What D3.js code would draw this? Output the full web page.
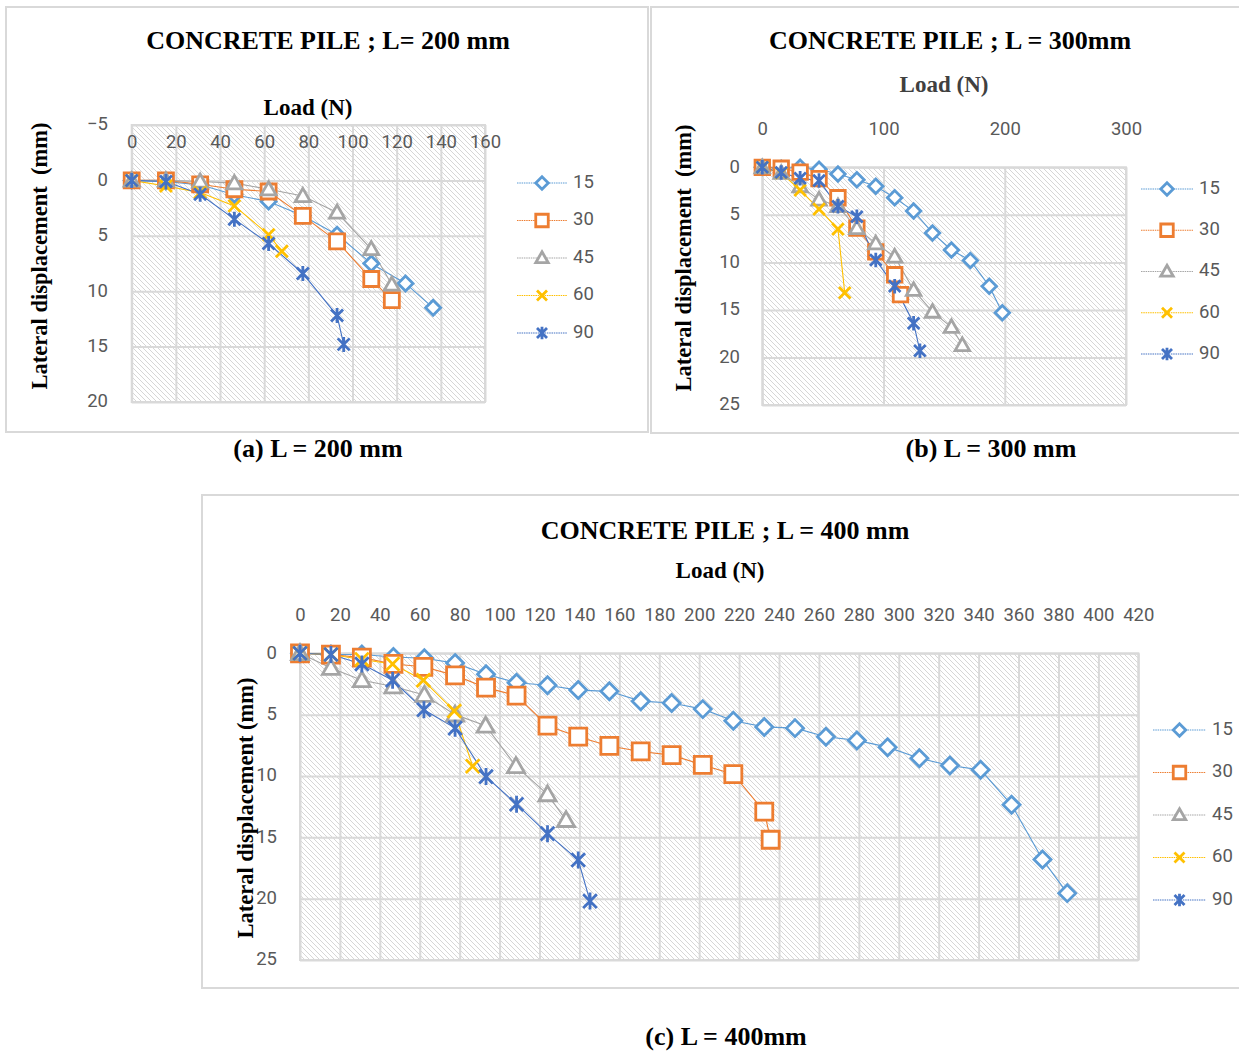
<!DOCTYPE html>
<html>
<head>
<meta charset="utf-8">
<script src="https://cdn.jsdelivr.net/npm/d3@7"></script>
<style>
  body { margin: 0; background: #fff; }
  svg { display: block; }
</style>
</head>
<body>
<svg id="svg-container" width="1239" height="1053"></svg>
<script>
// series labels (legend)
var seriesNames = ["15", "30", "45", "60", "90"];

// (a) L = 200 mm : [load N, lateral displacement mm]
var a15 = [[0,0],[15.5,0.1],[31,0.4],[46.5,1.3],[62,1.9],[77.5,3.2],[93,4.9],[108.5,7.5],[124,9.3],[136.5,11.5]];
var a30 = [[0,0],[15.5,0],[31,0.35],[46.5,0.8],[62,1],[77.5,3.2],[93,5.5],[108.5,8.9],[117.8,10.8]];
var a45 = [[0,0],[15.5,0],[31,0.1],[46.5,0.25],[62,0.8],[77.5,1.4],[93,2.9],[108.5,6.2],[117.8,9.4]];
var a60 = [[0,0],[15.5,0.5],[31,1.1],[46.5,2.3],[62,4.9],[68,6.4]];
var a90 = [[0,0],[15.5,0.1],[31,1.25],[46.5,3.5],[62,5.7],[77.5,8.4],[93,12.2],[96,14.8]];

// (b) L = 300 mm
var b15 = [[0,0],[15.6,0.1],[31.2,0],[46.8,0.2],[62.4,0.7],[78,1.3],[93.6,2],[109.2,3.2],[124.8,4.6],[140.4,6.9],[156,8.7],[171.6,9.8],[187.2,12.5],[198,15.3]];
var b30 = [[0,0],[15.6,0.1],[31.2,0.5],[46.8,1.2],[62.4,3.2],[78,6.4],[93.6,8.9],[109.2,11.3],[114,13.4]];
var b45 = [[0,0],[15.6,0.6],[31.2,2],[46.8,3.4],[62.4,4.1],[78,6.4],[93.6,8],[109.2,9.4],[124.8,12.9],[140.4,15.2],[156,16.8],[165,18.7]];
var b60 = [[0,0],[15.6,0.6],[31.2,2.4],[46.8,4.4],[62.4,6.5],[68,13.2]];
var b90 = [[0,0],[15.6,0.55],[31.2,1.15],[46.8,1.4],[62.4,4.1],[78,5.2],[93.6,9.75],[109.2,12.5],[124.8,16.4],[130,19.3]];

// (c) L = 400 mm
var c15 = [[0,0],[15.5,0.1],[31,0.1],[46.8,0.3],[62.3,0.4],[77.7,0.8],[93.2,1.7],[108.5,2.4],[124,2.6],[139.4,3],[155,3.1],[170.7,3.9],[186.2,4.05],[201.8,4.55],[217.1,5.5],[232.6,6],[248,6.1],[263.5,6.8],[279,7.1],[294.4,7.65],[310.3,8.55],[325.6,9.15],[341,9.5],[356.5,12.35],[372,16.8],[384.4,19.55]];
var c30 = [[0,0],[15.5,0.1],[31,0.35],[46.8,0.87],[61.8,1.1],[77.7,1.8],[93.2,2.8],[108.5,3.45],[124,5.9],[139.4,6.8],[155,7.55],[170.7,8],[186.2,8.3],[201.8,9.1],[217.1,9.85],[232.6,12.9],[235.8,15.2]];
var c45 = [[0,0],[15.5,1.2],[31,2.2],[46.8,2.7],[62.3,3.4],[77.7,5],[93,5.9],[108.2,9.2],[124,11.5],[133.3,13.6]];
var c60 = [[0,0],[15.5,0.1],[31,0.5],[46.4,0.87],[61.8,2.2],[77.3,4.7],[86.5,9.2]];
var c90 = [[0,0],[15.5,0.1],[31,0.87],[46.4,2.2],[62.1,4.6],[77.7,6.1],[93.2,10.05],[108.5,12.3],[124,14.7],[139.4,16.85],[145.3,20.2]];

// axis ticks
var ticksLoadA = d3.range(0, 161, 20);
var ticksLoadB = [0, 100, 200, 300];
var ticksLoadC = d3.range(0, 421, 20);
var ticksDispA = [-5, 0, 5, 10, 15, 20];
var ticksDispBC = [0, 5, 10, 15, 20, 25];

var COLORS = ["#5B9BD5", "#ED7D31", "#A5A5A5", "#FFC000", "#4472C4"];
var MARKERS = ["diamond", "square", "triangle", "x", "star"];
var SERIF = "'Liberation Serif', 'Times New Roman', serif";

var svg = d3.select("#svg-container");

var defs = svg.append("defs");
var pat = defs.append("pattern")
    .attr("id", "hatch")
    .attr("patternUnits", "userSpaceOnUse")
    .attr("width", 5)
    .attr("height", 5);
pat.append("rect").attr("width", 5).attr("height", 5).attr("fill", "#ffffff");
pat.append("path")
    .attr("d", "M-1,-1 L6,6 M-1,4 L1,6 M4,-1 L6,1")
    .attr("stroke", "#d6d6d6")
    .attr("stroke-width", 1);

function markerPath(type, s) {
    var h = s / 2;
    if (type == "diamond") return "M0," + (-h) + "L" + h + ",0L0," + h + "L" + (-h) + ",0Z";
    if (type == "square") return "M" + (-h) + "," + (-h) + "h" + s + "v" + s + "h" + (-s) + "Z";
    if (type == "triangle") return "M0," + (-h) + "L" + h + "," + (h * 0.75) + "L" + (-h) + "," + (h * 0.75) + "Z";
    var k = h * 0.8;
    if (type == "x") return "M" + (-k) + "," + (-k) + "L" + k + "," + k + "M" + (-k) + "," + k + "L" + k + "," + (-k);
    return "M" + (-k) + "," + (-k) + "L" + k + "," + k + "M" + (-k) + "," + k + "L" + k + "," + (-k) + "M0," + (-h) + "L0," + h;
}

function drawMarker(g, i, x, y, s) {
    var open = (MARKERS[i] == "x" || MARKERS[i] == "star");
    g.append("path")
        .attr("transform", "translate(" + x + "," + y + ")")
        .attr("d", markerPath(MARKERS[i], s))
        .attr("fill", open ? "none" : "#ffffff")
        .attr("stroke", COLORS[i])
        .attr("stroke-width", 2.8);
}

function drawPanel(p) {
    var g = svg.append("g");

    g.append("rect")
        .attr("x", p.frame[0]).attr("y", p.frame[1])
        .attr("width", p.frame[2]).attr("height", p.frame[3])
        .attr("fill", "#fff")
        .attr("stroke", "#d9d9d9")
        .attr("stroke-width", 2);

    var x = d3.scaleLinear().domain(p.xDomain).range([p.plot[0], p.plot[1]]);
    var y = d3.scaleLinear().domain(p.yDomain).range([p.plot[2], p.plot[3]]);

    g.append("rect")
        .attr("x", p.plot[0]).attr("y", p.plot[2])
        .attr("width", p.plot[1] - p.plot[0]).attr("height", p.plot[3] - p.plot[2])
        .attr("fill", "url(#hatch)");

    // grid
    var gridX = g.append("g")
        .attr("transform", "translate(0," + p.plot[2] + ")")
        .call(d3.axisTop(x).tickValues(p.xTicks).tickSize(-(p.plot[3] - p.plot[2])).tickFormat(""));
    var gridY = g.append("g")
        .attr("transform", "translate(" + p.plot[0] + ",0)")
        .call(d3.axisLeft(y).tickValues(p.yTicks).tickSize(-(p.plot[1] - p.plot[0])).tickFormat(""));
    [gridX, gridY].forEach(function (a) {
        a.select(".domain").remove();
        a.selectAll("line").attr("stroke", "#d9d9d9").attr("stroke-width", 2);
    });
    g.append("rect")
        .attr("x", p.plot[0]).attr("y", p.plot[2])
        .attr("width", p.plot[1] - p.plot[0]).attr("height", p.plot[3] - p.plot[2])
        .attr("fill", "none")
        .attr("stroke", "#d9d9d9")
        .attr("stroke-width", 2);

    // tick labels
    var axX = g.append("g")
        .attr("transform", "translate(0," + p.xLabelY + ")")
        .call(d3.axisTop(x).tickValues(p.xTicks).tickSize(0).tickPadding(0));
    var axY = g.append("g")
        .attr("transform", "translate(" + p.yLabelX + ",0)")
        .call(d3.axisLeft(y).tickValues(p.yTicks).tickSize(0).tickPadding(0));
    [axX, axY].forEach(function (a) {
        a.select(".domain").remove();
        a.selectAll("text")
            .attr("font-family", "Roboto, sans-serif")
            .attr("font-size", "18.5px")
            .attr("fill", "#595959")
            .attr("dy", null)
            .attr("y", 0)
            .attr("dominant-baseline", "middle");
    });
    axX.selectAll("text").attr("text-anchor", "middle");
    axY.selectAll("text").attr("text-anchor", "end").attr("x", 0);

    // titles
    g.append("text")
        .attr("x", p.title[0]).attr("y", p.title[1])
        .attr("text-anchor", "middle").attr("dominant-baseline", "middle")
        .attr("font-family", SERIF)
        .attr("font-weight", "bold").attr("font-size", "26px")
        .attr("fill", "#000")
        .text(p.titleText);
    g.append("text")
        .attr("x", p.loadTitle[0]).attr("y", p.loadTitle[1])
        .attr("text-anchor", "middle").attr("dominant-baseline", "middle")
        .attr("font-family", SERIF)
        .attr("font-weight", "bold").attr("font-size", "23px")
        .attr("fill", p.loadColor)
        .text("Load (N)");
    g.append("text")
        .attr("transform", "translate(" + p.yTitle[0] + "," + p.yTitle[1] + ") rotate(-90)")
        .attr("text-anchor", "middle").attr("dominant-baseline", "middle")
        .attr("font-family", SERIF)
        .attr("font-weight", "bold").attr("font-size", "22.5px")
        .attr("fill", "#000")
        .attr("xml:space", "preserve")
        .text(p.yTitleText);

    // series
    var line = d3.line().x(function (d) { return x(d[0]); }).y(function (d) { return y(d[1]); });
    p.series.forEach(function (data, i) {
        g.append("path")
            .attr("d", line(data))
            .attr("fill", "none")
            .attr("stroke", COLORS[i])
            .attr("stroke-width", 1.1);
    });
    p.series.forEach(function (data, i) {
        data.forEach(function (d) {
            drawMarker(g, i, x(d[0]), y(d[1]), p.markerSize);
        });
    });

    // legend
    seriesNames.forEach(function (name, i) {
        var ly = p.legend[1] + i * p.legend[2];
        g.append("line")
            .attr("x1", p.legend[0]).attr("x2", p.legend[0] + p.legend[3])
            .attr("y1", ly).attr("y2", ly)
            .attr("stroke", COLORS[i])
            .attr("stroke-width", 1.2)
            .attr("stroke-dasharray", "1.5,0.8");
        drawMarker(g, i, p.legend[0] + p.legend[3] / 2, ly, 12.5);
        g.append("text")
            .attr("x", p.legend[0] + p.legend[3] + 6).attr("y", ly)
            .attr("dominant-baseline", "middle")
            .attr("font-family", "Roboto, sans-serif")
            .attr("font-size", "18.5px")
            .attr("fill", "#595959")
            .text(name);
    });

    // caption
    svg.append("text")
        .attr("x", p.caption[0]).attr("y", p.caption[1])
        .attr("text-anchor", "middle").attr("dominant-baseline", "middle")
        .attr("font-family", SERIF)
        .attr("font-weight", "bold").attr("font-size", "26px")
        .attr("fill", "#000")
        .text(p.captionText);
}

drawPanel({
    frame: [6, 7, 642, 425],
    plot: [131.7, 485, 125, 402],
    xDomain: [0, 160], yDomain: [-5, 20],
    xTicks: ticksLoadA, yTicks: ticksDispA,
    xLabelY: 143, yLabelX: 108,
    title: [328, 43], titleText: "CONCRETE PILE ; L= 200 mm",
    loadTitle: [308, 110], loadColor: "#000",
    yTitle: [42, 256], yTitleText: "Lateral displacement  (mm)",
    series: [a15, a30, a45, a60, a90],
    markerSize: 15,
    legend: [517, 183, 37.5, 50],
    caption: [318, 451], captionText: "(a) L = 200 mm"
});

drawPanel({
    frame: [651, 7, 600, 426],
    plot: [762.3, 1126, 167.3, 405],
    xDomain: [0, 300], yDomain: [0, 25],
    xTicks: ticksLoadB, yTicks: ticksDispBC,
    xLabelY: 130, yLabelX: 740,
    title: [950, 43], titleText: "CONCRETE PILE ; L = 300mm",
    loadTitle: [944, 87], loadColor: "#404040",
    yTitle: [686, 258], yTitleText: "Lateral displacement  (mm)",
    series: [b15, b30, b45, b60, b90],
    markerSize: 14.5,
    legend: [1141, 189, 41.25, 52],
    caption: [991, 451], captionText: "(b) L = 300 mm"
});

drawPanel({
    frame: [202, 495, 1050, 493],
    plot: [300, 1138.3, 653.3, 960],
    xDomain: [0, 420], yDomain: [0, 25],
    xTicks: ticksLoadC, yTicks: ticksDispBC,
    xLabelY: 616, yLabelX: 277,
    title: [725, 533], titleText: "CONCRETE PILE ; L = 400 mm",
    loadTitle: [720, 573], loadColor: "#000",
    yTitle: [248, 808], yTitleText: "Lateral displacement (mm)",
    series: [c15, c30, c45, c60, c90],
    markerSize: 17,
    legend: [1153, 730, 42.5, 53],
    caption: [726, 1039], captionText: "(c) L = 400mm"
});
</script>
</body>
</html>
